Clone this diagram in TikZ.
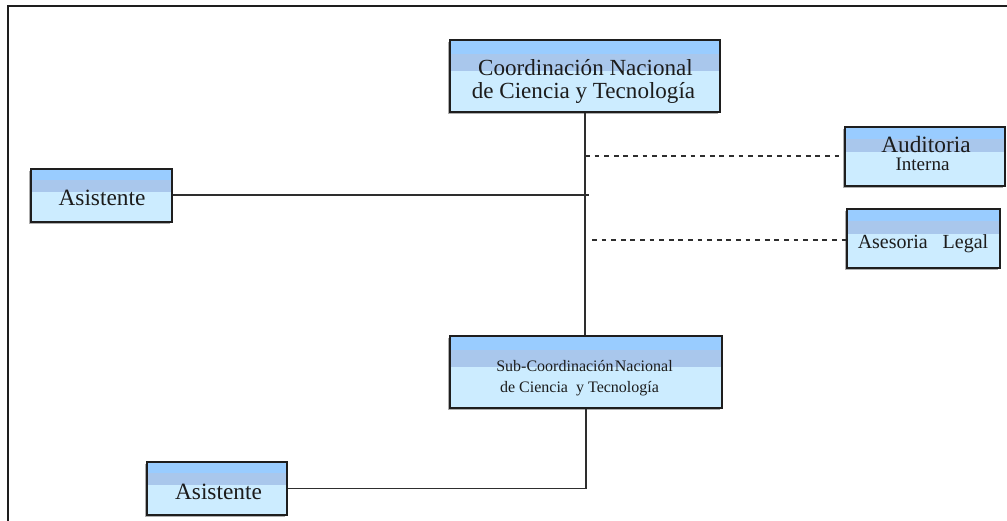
\documentclass[tikz,border=0pt]{standalone}
\usepackage{fontspec}
\setmainfont{Liberation Serif}
\usetikzlibrary{calc,shadows}
\definecolor{bandtop}{HTML}{99CCFF}
\definecolor{bandmid}{HTML}{A9C7EC}
\definecolor{bandlow}{HTML}{CCECFF}
\definecolor{ink}{HTML}{1E1E1E}
\definecolor{wire}{HTML}{2E2E2E}
\definecolor{txt}{HTML}{1C1C1C}
\tikzset{
  orgbox/.style={draw=ink, line width=1.4pt, fill=bandlow, inner sep=0pt,
    drop shadow={shadow xshift=-1.2pt, shadow yshift=-1.2pt, opacity=0.45, fill=black!70},
    path picture={
      \fill[bandtop] (path picture bounding box.north west) rectangle
        ($(path picture bounding box.north east)!0.2!(path picture bounding box.south east)$);
      \fill[bandmid] ($(path picture bounding box.north west)!0.2!(path picture bounding box.south west)$) rectangle
        ($(path picture bounding box.north east)!0.43!(path picture bounding box.south east)$);
    }},
  lbl/.style={anchor=base, inner sep=0pt, text=txt},
  wireline/.style={draw=wire, line width=1.1pt},
  dashline/.style={draw=wire, line width=1.1pt, dash pattern=on 3.6pt off 3.6pt},
}
\begin{document}
\begin{tikzpicture}[x=0.75pt, y=-0.75pt]
  \useasboundingbox (0,0) rectangle (1007,521);
  % outer frame (top and left edges only)
  \draw[line width=1.5pt, ink] (8,521) -- (8,6) -- (1007,6);

  % boxes
  \node[orgbox, minimum width=270*0.75pt, minimum height=72*0.75pt] (coord) at (585,76) {};
  \node[orgbox, minimum width=141*0.75pt, minimum height=53*0.75pt] (asis1) at (101.5,195.5) {};
  \node[orgbox, minimum width=160*0.75pt, minimum height=59*0.75pt] (audit) at (925,156.5) {};
  \node[orgbox, minimum width=153*0.75pt, minimum height=59*0.75pt] (aseso) at (923.5,238.5) {};
  \node[orgbox, minimum width=272*0.75pt, minimum height=72*0.75pt] (sub) at (586,372) {};
  \node[orgbox, minimum width=140*0.75pt, minimum height=53*0.75pt] (asis2) at (217,488.5) {};

  % labels
  \node[lbl, font=\fontsize{17.3pt}{18pt}\selectfont] (coordA) at (585.5,75) {Coordinación Nacional};
  \node[lbl, font=\fontsize{17.3pt}{18pt}\selectfont] (coordB) at (583.5,98) {de Ciencia y Tecnología};
  \node[lbl, font=\fontsize{17.5pt}{18pt}\selectfont] (asis1t) at (102,205) {Asistente};
  \node[lbl, font=\fontsize{17.5pt}{18pt}\selectfont] (auditA) at (926,152) {Auditoria};
  \node[lbl, font=\fontsize{14.3pt}{15pt}\selectfont] (auditB) at (922.5,170) {Interna};
  \node[lbl, font=\fontsize{15pt}{16pt}\selectfont] (asesot) at (923,248) {Asesoria\ \ \ Legal};
  \node[lbl, font=\fontsize{12pt}{13pt}\selectfont] (subA) at (584.5,371) {Sub-Coordinación\hspace{0.08em}Nacional};
  \node[lbl, font=\fontsize{12pt}{13pt}\selectfont] (subB) at (579.5,392) {de Ciencia\ \ y Tecnología};
  \node[lbl, font=\fontsize{17.5pt}{18pt}\selectfont] (asis2t) at (218.5,499) {Asistente};

  % connectors
  \coordinate (j1) at (589,195);
  \coordinate (d1) at (585,156);
  \coordinate (d2) at (592,240);
  \draw[wireline] (coord.south) -- (coord.south |- sub.north);
  \draw[wireline] (asis1.east |- j1) -- (j1);
  \draw[dashline] (d1) -- (audit.west |- d1);
  \draw[dashline] (d2) -- (aseso.west |- d2);
  \draw[wireline] (sub.south) |- (asis2.east);
\end{tikzpicture}
\end{document}
